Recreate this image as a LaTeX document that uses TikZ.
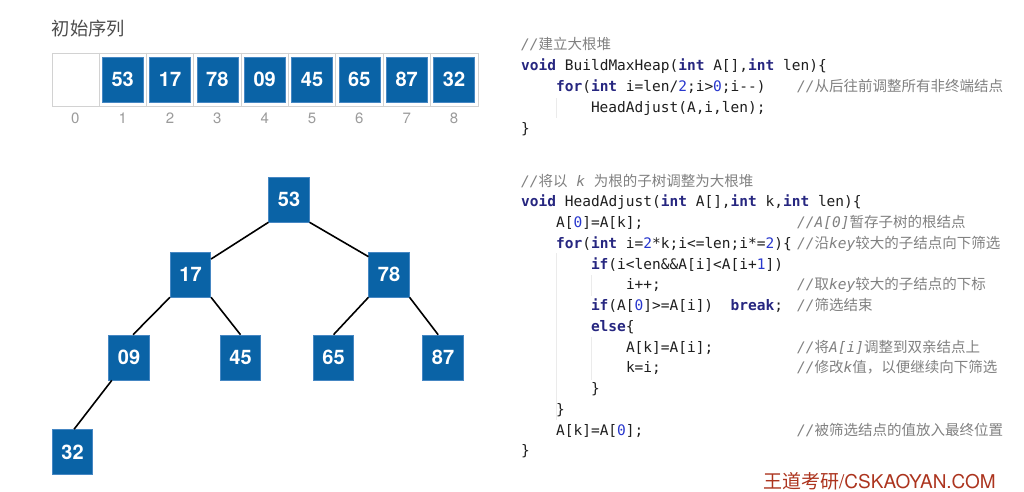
\documentclass[tikz,border=0pt]{standalone}
\usepackage{fontspec}
\usetikzlibrary{calc}
\setmainfont{TeX Gyre Heros}
\setmonofont{DejaVu Sans Mono}
\newfontfamily\cjk{Noto Sans CJK SC}
\definecolor{hblue}{RGB}{10,99,166}
\definecolor{hborder}{RGB}{70,135,195}
\definecolor{kwc}{RGB}{38,38,128}
\definecolor{numc}{RGB}{40,55,205}
\definecolor{codec}{RGB}{30,30,30}
\definecolor{cmtc}{RGB}{128,128,128}
\definecolor{gridc}{RGB}{210,210,210}
\definecolor{idxc}{RGB}{155,155,155}
\definecolor{wmc}{RGB}{172,52,30}
\newcommand{\kw}[1]{{\bfseries\color{kwc}#1}}
\newcommand{\nm}[1]{{\color{numc}#1}}
\newcommand{\cm}[1]{{\ttfamily\itshape #1}}
\newcommand{\zh}[1]{{\cjk #1}}
\begin{document}
\begin{tikzpicture}[x=1pt,y=-1pt,
  bbox/.style={fill=hblue, draw=hborder, line width=0.6pt, minimum width=41pt, minimum height=45pt, inner sep=0pt, text=white, font=\fontsize{20}{20}\selectfont\bfseries},
  tbox/.style={bbox, minimum width=40.5pt},
  idx/.style={text=idxc, font=\fontsize{15}{15}\selectfont, inner sep=0pt},
  code/.style={anchor=base west, inner sep=0pt, text=codec, font=\fontsize{14.5}{17}\selectfont\ttfamily},
  cmt/.style={anchor=base west, inner sep=0pt, text=cmtc, font=\fontsize{14.5}{17}\selectfont\cjk},
  edge/.style={line width=1.6pt, black},
  guide/.style={line width=0.6pt, black!8}
]
\useasboundingbox (0,0) rectangle (1024,491);
% title
\node[anchor=west, inner sep=0pt, text=black!70, font=\fontsize{18.3}{20}\selectfont\cjk] (title) at (51.5,28.5) {初始序列};
% array
\node[draw=gridc, line width=0.8pt, minimum width=426pt, minimum height=53.5pt, inner sep=0pt, anchor=north west] (arr) at (51.7,52.7) {};
\foreach \i in {1,...,8}{
  \draw[gridc, line width=0.8pt] ($(arr.north west)+(\i*47.33,0)$) coordinate (gt\i) -- ($(arr.south west)+(\i*47.33,0)$) coordinate (gb\i);
}
\foreach \i/\v in {1/53,2/17,3/78,4/09,5/45,6/65,7/87,8/32}{
  \node[bbox] (a\i) at (51.7+\i*47.33+23.67,79.3) {\v};
}
\foreach \i in {0,...,8}{
  \node[idx] (ix\i) at (51.7+\i*47.33+23.67,118.3) {\i};
}
% tree
\node[tbox] (n53) at (289,199.5) {53};
\node[tbox] (n17) at (190.5,274.5) {17};
\node[tbox] (n78) at (389,274.5) {78};
\node[tbox] (n09) at (129,357.5) {09};
\node[tbox] (n45) at (240.5,357.5) {45};
\node[tbox] (n65) at (333.5,357.5) {65};
\node[tbox] (n87) at (443,357.5) {87};
\node[tbox] (n32) at (72.5,452) {32};
\draw[edge] (n53.south west) -- (n17.37);
\draw[edge] (n53.south east) -- (n78.139);
\draw[edge] (n17.south west) -- (n09.80);
\draw[edge] (n17.south east) -- (n45.north);
\draw[edge] (n78.south west) -- (n65.north);
\draw[edge] (n78.south east) -- (n87.102);
\draw[edge] (n09.233) -- (n32.86);
% indent guides
\draw[guide] (556.5,98) -- (556.5,118);
\draw[guide] (556.5,253) -- (556.5,420);
\draw[guide] (591,275) -- (591,296);
\draw[guide] (591,337) -- (591,380);
% block 1
\node[cmt] (b1c1) at (521,49.5) {\cm{//}建立大根堆};
\node[code] (b1l2) at (521,70.5) {\kw{void} BuildMaxHeap(\kw{int} A[],\kw{int} len)\{};
\node[code] (b1l3) at (555.9,91.5) {\kw{for}(\kw{int} i=len/\nm{2};i>\nm{0};i-{}-)};
\node[cmt] (b1c3) at (797,91.5) {\cm{//}从后往前调整所有非终端结点};
\node[code] (b1l4) at (590.8,112.5) {HeadAdjust(A,i,len);};
\node[code] (b1l5) at (521,133.5) {\}};
% block 2
\node[cmt] (b2c1) at (521,186) {\cm{//}将以\cm{\ k\ }为根的子树调整为大根堆};
\node[code] (b2l2) at (521,206.75) {\kw{void} HeadAdjust(\kw{int} A[],\kw{int} k,\kw{int} len)\{};
\node[code] (b2l3) at (555.9,227.5) {A[\nm{0}]=A[k];};
\node[cmt] (b2c3) at (797,227.5) {\cm{//A[0]}暂存子树的根结点};
\node[code] (b2l4) at (555.9,248.25) {\kw{for}(\kw{int} i=\nm{2}*k;i<=len;i*=\nm{2})\{};
\node[cmt] (b2c4) at (797,248.25) {\cm{//}沿\cm{key}较大的子结点向下筛选};
\node[code] (b2l5) at (590.8,269) {\kw{if}(i<len\&\&A[i]<A[i+\nm{1}])};
\node[code] (b2l6) at (625.8,289.75) {i++;};
\node[cmt] (b2c6) at (797,289.75) {\cm{//}取\cm{key}较大的子结点的下标};
\node[code] (b2l7) at (590.8,310.5) {\kw{if}(A[\nm{0}]>=A[i])~~\kw{break};};
\node[cmt] (b2c7) at (797,310.5) {\cm{//}筛选结束};
\node[code] (b2l8) at (590.8,331.25) {\kw{else}\{};
\node[code] (b2l9) at (625.8,352) {A[k]=A[i];};
\node[cmt] (b2c9) at (797,352) {\cm{//}将\cm{A[i]}调整到双亲结点上};
\node[code] (b2l10) at (625.8,372.75) {k=i;};
\node[cmt] (b2c10) at (797,372.75) {\cm{//}修改\cm{k}值，以便继续向下筛选};
\node[code] (b2l11) at (590.8,393.5) {\}};
\node[code] (b2l12) at (555.9,414.25) {\}};
\node[code] (b2l13) at (555.9,435) {A[k]=A[\nm{0}];};
\node[cmt] (b2c13) at (797,435) {\cm{//}被筛选结点的值放入最终位置};
\node[code] (b2l14) at (521,455.75) {\}};
% watermark
\node[anchor=base west, inner sep=0pt, text=wmc, font=\fontsize{19}{20}\selectfont] (wm) at (763,488.5) {\zh{王道考研}/CSKAOYAN.COM};
\end{tikzpicture}
\end{document}
